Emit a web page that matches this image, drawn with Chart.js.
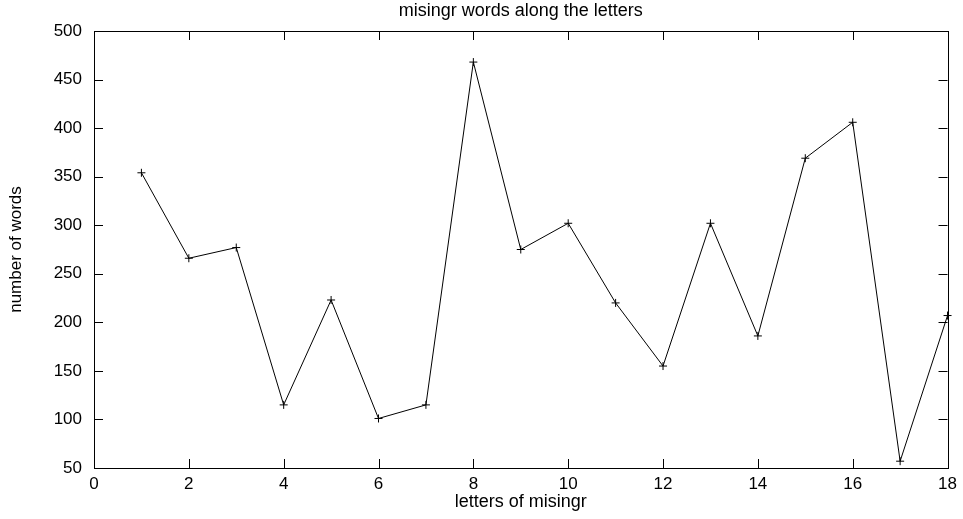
<!DOCTYPE html>
<html>
<head>
<meta charset="utf-8">
<script src="https://cdn.jsdelivr.net/npm/chart.js@4.4.1/dist/chart.umd.min.js"></script>
<style>
  html, body { margin: 0; padding: 0; background: #fff; }
  #wrap { width: 963px; height: 519px; }
</style>
</head>
<body>
<div id="wrap"><canvas id="myChart"></canvas></div>
<script>
// letters 1..18 and word counts
var letters = [1, 2, 3, 4, 5, 6, 7, 8, 9, 10, 11, 12, 13, 14, 15, 16, 17, 18]
var words = [354, 266, 277, 115, 223, 101, 115, 468, 275, 302, 220, 155, 302, 186, 369, 406, 57, 207]
var xTicks = [0, 2, 4, 6, 8, 10, 12, 14, 16, 18]
var yTicks = [50, 100, 150, 200, 250, 300, 350, 400, 450, 500]

var points = letters.map(function(l, i) { return {x: l, y: words[i]} })

Chart.defaults.font.family = "'Liberation Sans', Arial, sans-serif"
Chart.defaults.color = '#000'

// gnuplot style frame with ticks pointing inwards on all four sides
var frame = {
    id: 'frame',
    afterDraw: function(chart) {
        var c = chart.ctx, a = chart.chartArea
        var xs = chart.scales.x, ys = chart.scales.y
        var len = 9
        c.save()
        c.strokeStyle = '#000'
        c.lineWidth = 1
        c.beginPath()
        xTicks.forEach(function(v) {
            var px = Math.round(xs.getPixelForValue(v)) + 0.5
            c.moveTo(px, a.bottom); c.lineTo(px, a.bottom - len)
            c.moveTo(px, a.top); c.lineTo(px, a.top + len)
        })
        yTicks.forEach(function(v) {
            var py = Math.round(ys.getPixelForValue(v)) + 0.5
            c.moveTo(a.left, py); c.lineTo(a.left + len, py)
            c.moveTo(a.right, py); c.lineTo(a.right - len, py)
        })
        c.stroke()
        c.strokeRect(Math.round(a.left) + 0.5, Math.round(a.top) + 0.5,
            Math.round(a.right - a.left), Math.round(a.bottom - a.top))
        c.restore()
    }
}

var ctx = document.getElementById('myChart')
var chart = new Chart(ctx, {
    type: 'line',
    data: {
        datasets: [{
            data: points,
            borderColor: '#000',
            backgroundColor: '#000',
            borderWidth: 1,
            tension: 0,
            pointStyle: 'cross',
            pointRadius: 4,
            pointBorderWidth: 1,
            pointBorderColor: '#000',
            clip: false
        }]
    },
    options: {
        responsive: true,
        maintainAspectRatio: false,
        animation: false,
        layout: { padding: { left: 0, right: 15, top: 0, bottom: 0 } },
        plugins: {
            legend: { display: false },
            tooltip: { enabled: false },
            title: {
                display: true,
                fullSize: false,
                text: 'misingr words along the letters',
                font: { size: 18, weight: 'normal' },
                color: '#000',
                padding: { top: 0, bottom: 9.4 }
            }
        },
        scales: {
            x: {
                type: 'linear',
                min: 0,
                max: 18,
                afterFit: function(s) { s.height = 51 },
                afterBuildTicks: function(s) { s.ticks = xTicks.map(function(v) { return {value: v} }) },
                grid: { display: false, drawTicks: false },
                border: { display: false },
                ticks: { padding: 6, font: { size: 17 }, maxRotation: 0 },
                title: {
                    display: true,
                    text: 'letters of misingr',
                    font: { size: 18 },
                    padding: { bottom: 6 }
                }
            },
            y: {
                min: 50,
                max: 500,
                afterFit: function(s) { s.width = 94 },
                afterBuildTicks: function(s) { s.ticks = yTicks.map(function(v) { return {value: v} }) },
                grid: { display: false, drawTicks: false },
                border: { display: false },
                ticks: { padding: 12, font: { size: 17 } },
                title: {
                    display: true,
                    text: 'number of words',
                    font: { size: 17 },
                    padding: { top: 6 }
                }
            }
        }
    },
    plugins: [frame]
})
</script>
</body>
</html>
